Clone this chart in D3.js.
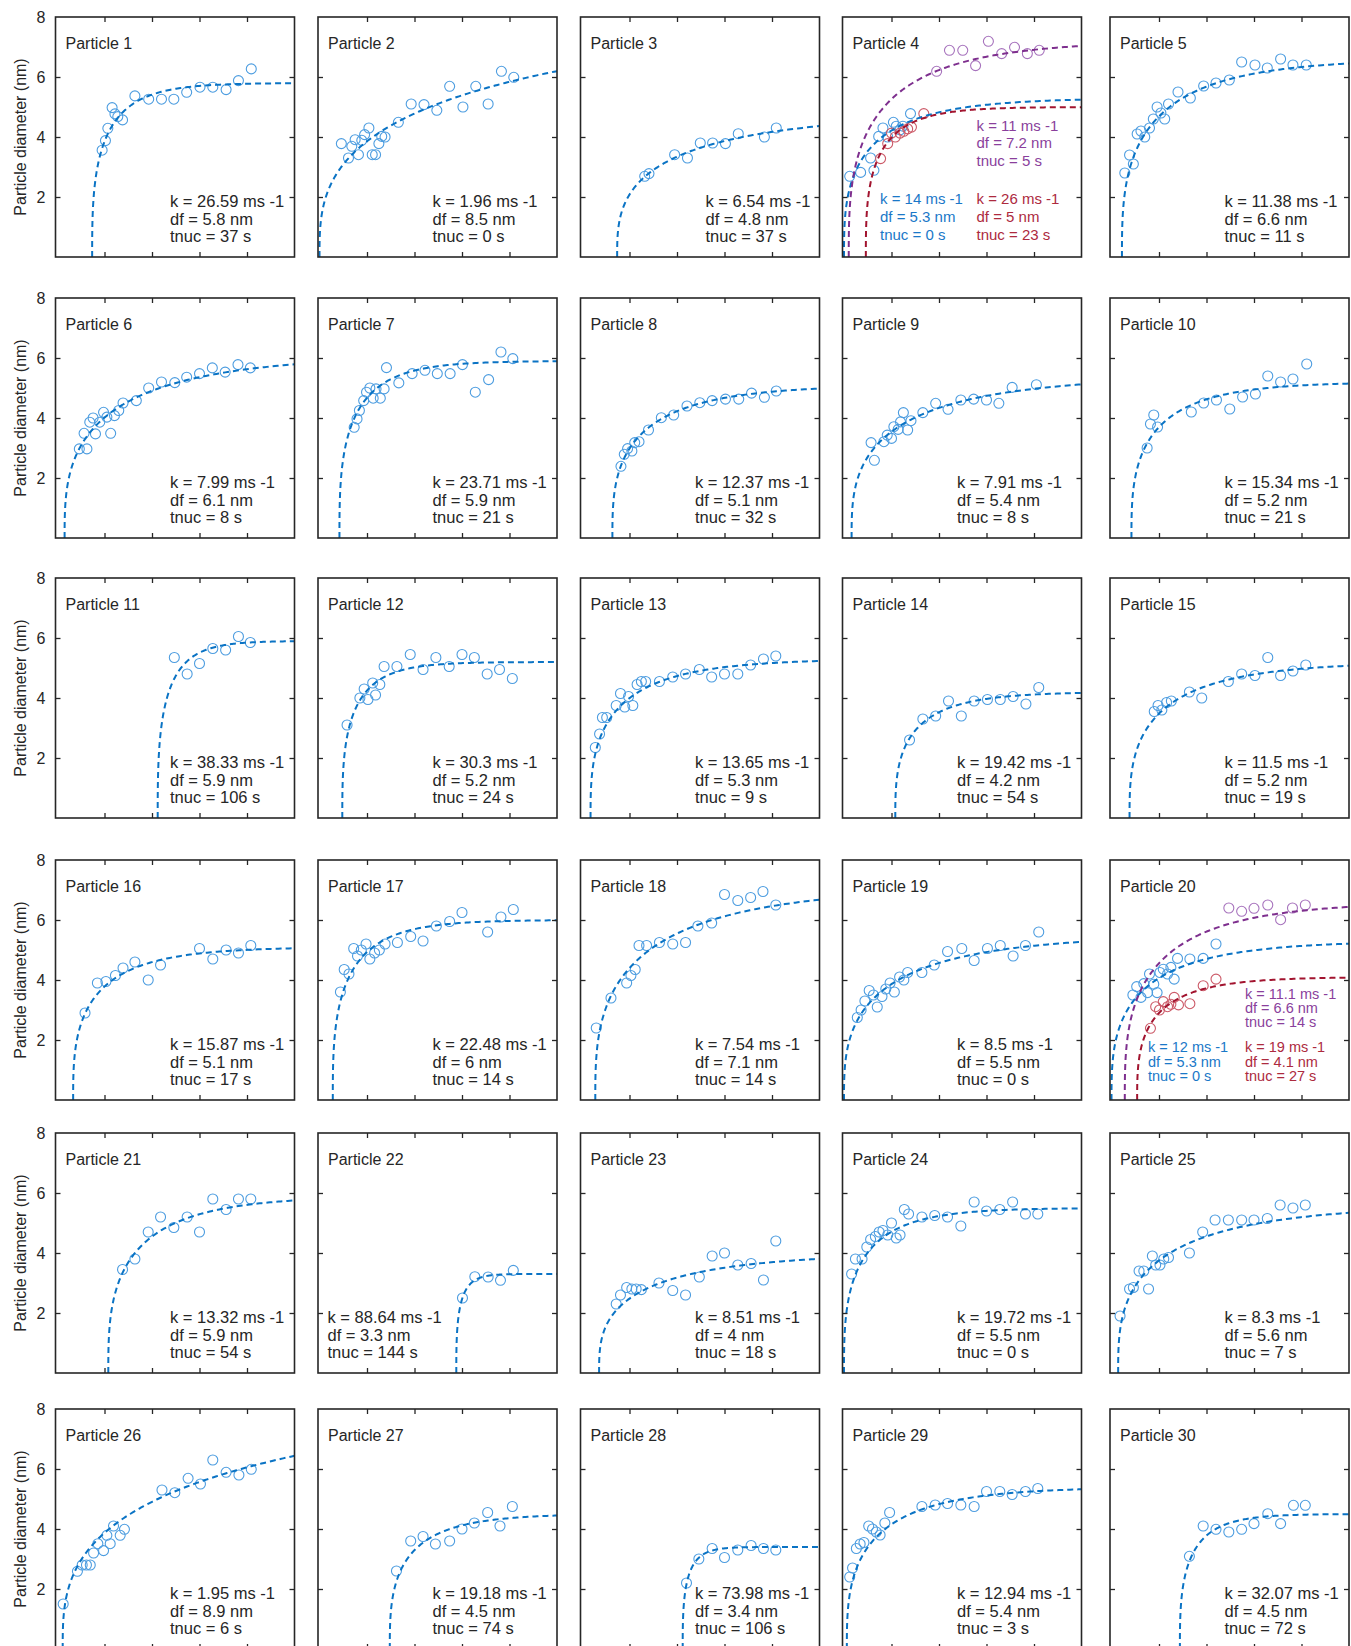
<!DOCTYPE html>
<html>
<head>
<meta charset="utf-8">
<script src="https://cdn.jsdelivr.net/npm/d3@7"></script>
<style>
  body { margin: 0; background: #fff; }
  text { font-family: "Liberation Sans", Arial, Helvetica, sans-serif; }
</style>
</head>
<body>
<svg id="fig" width="1351" height="1646"></svg>
<script>
// measured points [time (s), diameter (nm)] for each particle
const p1 = [[47.5,3.56],[51,3.88],[53.5,4.29],[58,4.98],[61,4.77],[64,4.68],[69,4.57],[82,5.37],[96.5,5.26],[110,5.26],[123,5.26],[136.5,5.49],[150.5,5.66],[164,5.66],[178,5.58],[191,5.88],[204.5,6.27]]
const p2 = [[23,3.78],[30.5,3.3],[34,3.69],[37.5,3.91],[41,3.41],[44.5,3.89],[47.5,4.08],[52,4.3],[55.5,3.41],[59,3.41],[62.5,3.78],[65.5,4.02],[69,4.0],[83,4.49],[96.5,5.1],[110,5.08],[123.5,4.89],[137,5.69],[151,5.0],[164.5,5.69],[177.5,5.1],[191.5,6.19],[204.5,5.99]]
const p3 = [[66,2.69],[70.5,2.78],[97.5,3.41],[111,3.3],[124.5,3.8],[137.5,3.8],[151,3.78],[164.5,4.11],[192,4.0],[204.5,4.3]]
const p4Blue = [[6,2.69],[17.5,2.82],[28,3.3],[31.5,2.89],[36.5,4.02],[41,4.3],[46,4.0],[52,4.49],[55,4.36],[59,4.24],[62,4.36],[70,4.78]]
const p4Purple = [[97.5,6.19],[111,6.89],[125,6.89],[138.5,6.38],[152,7.19],[166,6.78],[179.5,6.99],[193,6.78],[205.5,6.89]]
const p4Red = [[38.5,3.28],[46,3.78],[50,4.13],[54,4.0],[59,4.13],[63,4.19],[67,4.27],[71,4.33],[84,4.78]]
const p5 = [[14,2.8],[19,3.4],[23,3.1],[27,4.1],[31,4.2],[35,4.0],[40,4.3],[44,4.6],[48,5.0],[52,4.8],[56,4.6],[60,5.1],[70,5.5],[83,5.3],[97,5.7],[110,5.8],[124,5.9],[137,6.5],[151,6.4],[164,6.3],[178,6.6],[191,6.4],[205,6.4]]
const p6 = [[23.5,2.97],[28.5,3.49],[31.5,2.97],[34.5,3.86],[38,4.0],[40.5,3.47],[45,3.86],[49,4.19],[52.5,4.03],[56.5,3.49],[60.5,4.08],[65,4.25],[69.5,4.5],[83.5,4.58],[96.5,5.0],[110,5.2],[124,5.18],[136.5,5.36],[150,5.48],[163.5,5.67],[177,5.53],[190.5,5.78],[203.5,5.67]]
const p7 = [[36.5,3.69],[39.5,3.97],[42,4.25],[46.5,4.58],[49.5,4.86],[53,5.0],[56.5,4.66],[59.5,4.97],[64,4.66],[68,4.97],[70.5,5.68],[83.5,5.17],[97.5,5.48],[111,5.59],[124,5.48],[137.5,5.48],[150.5,5.78],[164,4.86],[178,5.28],[191,6.2],[203.5,5.98]]
const p8 = [[41,2.39],[44.5,2.79],[48,2.98],[52.5,2.9],[55.5,3.18],[60,3.21],[70,3.6],[83.5,4.01],[96.5,4.1],[110.5,4.4],[124,4.51],[137,4.58],[151,4.63],[165,4.63],[178.5,4.83],[192,4.69],[204.5,4.9]]
const p9 = [[28.5,3.18],[32,2.59],[42,3.21],[45.5,3.43],[50,3.32],[52.5,3.71],[57,3.62],[59.5,3.87],[62.5,4.18],[67,3.6],[70.5,3.91],[83,4.18],[96.5,4.49],[109.5,4.29],[123,4.6],[136.5,4.63],[150,4.6],[163,4.49],[177,5.02],[202.5,5.11]]
const p10 = [[37.5,3.0],[41,3.8],[44.5,4.1],[48.5,3.7],[84,4.2],[97,4.5],[110.5,4.6],[124.5,4.3],[138,4.7],[151.5,4.8],[164.5,5.4],[178,5.2],[191,5.3],[205.5,5.8]]
const p11 = [[123.5,5.35],[137,4.8],[150,5.15],[164,5.65],[177.5,5.6],[191,6.05],[203.5,5.85]]
const p12 = [[29,3.1],[42.5,4.0],[47,4.3],[51,3.95],[56,4.5],[59,4.1],[63.5,4.45],[68,5.05],[81.5,5.05],[95.5,5.45],[109,4.95],[122.5,5.35],[136.5,5.05],[150,5.45],[163,5.35],[176.5,4.8],[189.5,4.95],[203,4.65]]
const p13 = [[14,2.35],[18.5,2.8],[21.5,3.35],[26,3.35],[36,3.75],[40.5,4.15],[45,3.7],[49,4.05],[53.5,3.75],[58,4.45],[62.5,4.55],[67,4.55],[81.5,4.55],[95.5,4.7],[109,4.8],[123.5,4.95],[136.5,4.7],[150,4.8],[164,4.8],[177.5,5.1],[191,5.3],[204,5.4]]
const p14 = [[69,2.6],[83,3.3],[96.5,3.4],[110,3.9],[123.5,3.4],[137,3.9],[151,3.95],[164.5,3.95],[178,4.05],[191.5,3.8],[205,4.35]]
const p15 = [[45,3.55],[49,3.75],[53,3.6],[58,3.85],[63,3.9],[82,4.2],[95,4.0],[123,4.55],[137,4.8],[151,4.75],[164.5,5.35],[178,4.75],[191,4.9],[204.5,5.1]]
const p16 = [[29.5,2.9],[42.5,3.9],[51.5,3.95],[61.5,4.15],[69.5,4.4],[82,4.6],[96,4.0],[109,4.5],[150,5.05],[164,4.7],[178,5.0],[191,4.9],[204,5.15]]
const p17 = [[22,3.6],[26,4.35],[31,4.2],[36,5.05],[40,4.8],[44,5.0],[49,5.2],[53,4.7],[58,4.9],[63,5.0],[69,5.2],[82,5.25],[96,5.45],[109,5.3],[123,5.8],[137,5.95],[150,6.25],[177,5.6],[191,6.1],[204,6.35]]
const p18 = [[15,2.4],[30.5,3.4],[47,3.9],[51.5,4.15],[56,4.35],[60,5.15],[68,5.15],[81.5,5.25],[95.5,5.2],[109,5.25],[122,5.8],[136.5,5.9],[150,6.85],[164,6.65],[177.5,6.75],[190.5,6.95],[204,6.5]]
const p19 = [[14,2.75],[18,3.0],[22,3.3],[26.5,3.65],[31,3.5],[35,3.1],[40,3.45],[44,3.7],[48.5,3.9],[53,3.6],[58.5,4.1],[63,4.0],[67,4.25],[82,4.25],[95,4.5],[109,4.95],[124,5.05],[137,4.65],[151,5.05],[164.5,5.15],[178,4.8],[191,5.15],[205,5.6]]
const p20Blue = [[22.5,3.5],[26.5,3.78],[31,3.42],[34,3.88],[38,3.58],[40,4.2],[44.5,3.86],[48,3.58],[51,4.25],[54.5,4.36],[59,4.2],[62.5,4.42],[66,4.03],[69.5,4.72],[82.5,4.7],[96.5,4.72],[110,5.2]]
const p20Purple = [[123.5,6.4],[137,6.29],[150,6.39],[164.5,6.5],[178,6.01],[190.5,6.4],[204,6.5]]
const p20Red = [[41,2.39],[46.5,3.11],[50.5,3.0],[54.5,3.28],[59,3.11],[62.5,3.19],[66,3.42],[70.5,3.17],[82.5,3.21],[96.5,3.81],[110,4.03]]
const p21 = [[69,3.45],[82,3.8],[96,4.7],[109,5.2],[123,4.85],[137,5.2],[150,4.7],[164,5.8],[178,5.45],[191,5.8],[204,5.8]]
const p22 = [[150.5,2.5],[163.5,3.21],[177.5,3.2],[190.5,3.09],[204,3.42]]
const p23 = [[36,2.3],[40.5,2.6],[47,2.85],[52.5,2.8],[57,2.8],[62.5,2.78],[81,3.0],[95.5,2.75],[109,2.6],[123.5,3.2],[137,3.9],[150,4.0],[164,3.6],[178,3.65],[191,3.1],[204,4.4]]
const p24 = [[8,3.3],[12,3.8],[19,3.8],[24,4.2],[28,4.45],[33,4.55],[37,4.7],[41,4.75],[46,4.6],[50,5.0],[55,4.5],[59,4.6],[63.5,5.45],[68,5.3],[82,5.2],[95.5,5.25],[109,5.2],[123,4.9],[137,5.7],[150,5.4],[164,5.45],[177.5,5.7],[191,5.3],[204,5.3]]
const p25 = [[9,1.9],[19,2.8],[23,2.85],[29,3.4],[34,3.4],[39,2.8],[43,3.9],[46.5,3.6],[51,3.6],[55,3.8],[60,3.85],[82,4.0],[96,4.7],[109,5.1],[123,5.1],[137,5.1],[150,5.1],[164,5.15],[177.5,5.6],[191,5.5],[204,5.6]]
const p26 = [[6.5,1.5],[21.5,2.59],[26.5,2.8],[31,2.8],[35,2.8],[38.5,3.2],[43,3.51],[49,3.28],[52.5,3.79],[56,3.51],[59.5,4.1],[66.5,3.79],[71,3.99],[110.5,5.3],[124,5.21],[138,5.69],[151,5.5],[164,6.3],[178,5.89],[191.5,5.8],[204.5,5.99]]
const p27 = [[81,2.6],[96,3.6],[109,3.75],[122,3.5],[137,3.6],[150,4.0],[163,4.2],[177,4.55],[190,4.1],[203,4.75]]
const p28 = [[110,2.2],[123,3.0],[137,3.35],[150,3.05],[164,3.3],[178,3.45],[191,3.35],[204,3.3]]
const p29 = [[6,2.4],[9,2.7],[13,3.35],[17,3.5],[21,3.55],[26,4.1],[30,4.0],[34,3.9],[38,3.8],[43,4.2],[48,4.55],[82,4.75],[96,4.8],[109,4.85],[123,4.8],[137,4.75],[150,5.25],[164,5.25],[177,5.15],[191,5.25],[204,5.35]]
const p30 = [[82,3.09],[96.5,4.1],[110,3.99],[123.5,3.9],[137,3.99],[150,4.18],[164.5,4.51],[178,4.18],[191.5,4.79],[204,4.79]]

// fit parameters per panel (k in ms -1, df in nm, tnuc in s); panels 4 and 20 have three fits
const fitK    = [26.59, 1.96, 6.54, null, 11.38, 7.99, 23.71, 12.37, 7.91, 15.34, 38.33, 30.3, 13.65, 19.42, 11.5, 15.87, 22.48, 7.54, 8.5, null, 13.32, 88.64, 8.51, 19.72, 8.3, 1.95, 19.18, 73.98, 12.94, 32.07]
const fitDf   = [5.8, 8.5, 4.8, null, 6.6, 6.1, 5.9, 5.1, 5.4, 5.2, 5.9, 5.2, 5.3, 4.2, 5.2, 5.1, 6, 7.1, 5.5, null, 5.9, 3.3, 4, 5.5, 5.6, 8.9, 4.5, 3.4, 5.4, 4.5]
const fitTnuc = [37, 0, 37, null, 11, 8, 21, 32, 8, 21, 106, 24, 9, 54, 19, 17, 14, 14, 0, null, 54, 144, 18, 0, 7, 6, 74, 106, 3, 72]
// order: blue, purple, red
const p4K = [14, 11, 26], p4Df = [5.3, 7.2, 5], p4Tnuc = [0, 5, 23]
const p20K = [12, 11.1, 19], p20Df = [5.3, 6.6, 4.1], p20Tnuc = [0, 14, 27]

const xTicks = [50, 100, 150, 200]
const yTicks = [2, 4, 6]
const yLabels = [2, 4, 6, 8]

const singlePts = [p1, p2, p3, null, p5, p6, p7, p8, p9, p10, p11, p12, p13, p14, p15, p16, p17, p18, p19, null,
                   p21, p22, p23, p24, p25, p26, p27, p28, p29, p30]

const W = 239, H = 240
const colX = [55.5, 318, 580.5, 842.5, 1110]
const rowY = [17, 298, 578, 860, 1133, 1409]
const INK = "#262626"
const BLUE = {line: "#0a73c4", pt: "#4d9de0", txt: "#1a78c8"}
const PURPLE = {line: "#7E2F8E", pt: "#a773bd", txt: "#8a3f9c"}
const RED = {line: "#A2142F", pt: "#cc5a68", txt: "#ad2a3e"}

const svg = d3.select("#fig")
const x = d3.scaleLinear().domain([0, 250]).range([1.5, W])
const y = d3.scaleLinear().domain([0, 8]).range([H, 0])

// fitted growth model, drawn from the printed fit parameters
function fitCurve(k, df, tnuc) {
  const out = []
  for (let i = 0; i <= 240; i++) {
    const t = tnuc + (250 - tnuc) * Math.pow(i / 240, 3)
    out.push([t, df * Math.cbrt(1 - Math.exp(-k * 1e-3 * (t - tnuc)))])
  }
  return out
}
const line = d3.line().x(d => x(d[0])).y(d => y(d[1]))

svg.append("defs").append("clipPath").attr("id", "plotclip")
  .append("rect").attr("x", 0).attr("y", 0).attr("width", W).attr("height", H)

for (let i = 0; i < 30; i++) {
  const col = i % 5, row = Math.floor(i / 5)
  const g = svg.append("g").attr("transform", `translate(${colX[col]},${rowY[row]})`)

  // series for this panel
  let series
  if (i == 3) {
    series = [
      {pts: p4Blue, k: p4K[0], df: p4Df[0], tn: p4Tnuc[0], c: BLUE},
      {pts: p4Purple, k: p4K[1], df: p4Df[1], tn: p4Tnuc[1], c: PURPLE},
      {pts: p4Red, k: p4K[2], df: p4Df[2], tn: p4Tnuc[2], c: RED}]
  } else if (i == 19) {
    series = [
      {pts: p20Blue, k: p20K[0], df: p20Df[0], tn: p20Tnuc[0], c: BLUE},
      {pts: p20Purple, k: p20K[1], df: p20Df[1], tn: p20Tnuc[1], c: PURPLE},
      {pts: p20Red, k: p20K[2], df: p20Df[2], tn: p20Tnuc[2], c: RED}]
  } else {
    series = [{pts: singlePts[i], k: fitK[i], df: fitDf[i], tn: fitTnuc[i], c: BLUE}]
  }

  const plot = g.append("g").attr("clip-path", "url(#plotclip)")
  series.forEach(s => {
    plot.append("g").selectAll("circle").data(s.pts).enter().append("circle")
      .attr("cx", d => x(d[0])).attr("cy", d => y(d[1])).attr("r", 5)
      .attr("fill", "none").attr("stroke", s.c.pt).attr("stroke-width", 1.1)
  })
  series.forEach(s => {
    plot.append("path").datum(fitCurve(s.k, s.df, s.tn)).attr("d", line)
      .attr("fill", "none").attr("stroke", s.c.line).attr("stroke-width", 2)
      .attr("stroke-dasharray", "6,4")
  })

  // frame and inward ticks on all four sides
  const ax = [
    g.append("g").attr("transform", `translate(0,${H})`).call(d3.axisBottom(x).tickValues(xTicks).tickSize(-5).tickFormat("")),
    g.append("g").call(d3.axisTop(x).tickValues(xTicks).tickSize(-5).tickFormat("")),
    g.append("g").call(d3.axisLeft(y).tickValues(yTicks).tickSize(-5).tickFormat("")),
    g.append("g").attr("transform", `translate(${W},0)`).call(d3.axisRight(y).tickValues(yTicks).tickSize(-5).tickFormat(""))]
  ax.forEach(a => { a.select(".domain").remove(); a.selectAll("line").attr("stroke", INK).attr("stroke-width", 1.3) })
  g.append("rect").attr("width", W).attr("height", H).attr("fill", "none")
    .attr("stroke", INK).attr("stroke-width", 1.6)

  if (col == 0) {
    const yl = g.append("g").call(d3.axisLeft(y).tickValues(yLabels).tickSize(0).tickPadding(10))
    yl.select(".domain").remove()
    yl.selectAll("text").attr("font-size", 16).attr("fill", INK)
      .attr("font-family", '"Liberation Sans", Arial, sans-serif')
    g.append("text").attr("transform", `translate(-30,${H / 2}) rotate(-90)`)
      .attr("text-anchor", "middle").attr("font-size", 16).attr("fill", INK)
      .text("Particle diameter (nm)")
  }

  g.append("text").attr("x", 10).attr("y", 32).attr("font-size", 16).attr("fill", INK)
    .text("Particle " + (i + 1))

  // fit parameter labels
  function block(s, bx, by, size, gap, color) {
    const lines = [`k = ${s.k} ms -1`, `df = ${s.df} nm`, `tnuc = ${s.tn} s`]
    g.append("g").selectAll("text").data(lines).enter().append("text")
      .attr("x", bx).attr("y", (d, j) => by + j * gap)
      .attr("font-size", size).attr("fill", color).text(d => d)
  }
  if (i == 3) {
    block(series[0], 37.5, 187, 15, 17.8, BLUE.txt)
    block(series[2], 134, 187, 15, 17.8, RED.txt)
    block(series[1], 134, 113.7, 15, 17.5, PURPLE.txt)
  } else if (i == 19) {
    block(series[0], 38, 192, 14.5, 14.5, BLUE.txt)
    block(series[2], 135, 192, 14.5, 14.5, RED.txt)
    block(series[1], 135, 138.5, 14.5, 14.3, PURPLE.txt)
  } else {
    const tx = i == 2 ? 125 : (i == 21 ? 9.5 : 114.5)
    block(series[0], tx, H - 49.7, 16.5, 17.3, INK)
  }
}
</script>
</body>
</html>
